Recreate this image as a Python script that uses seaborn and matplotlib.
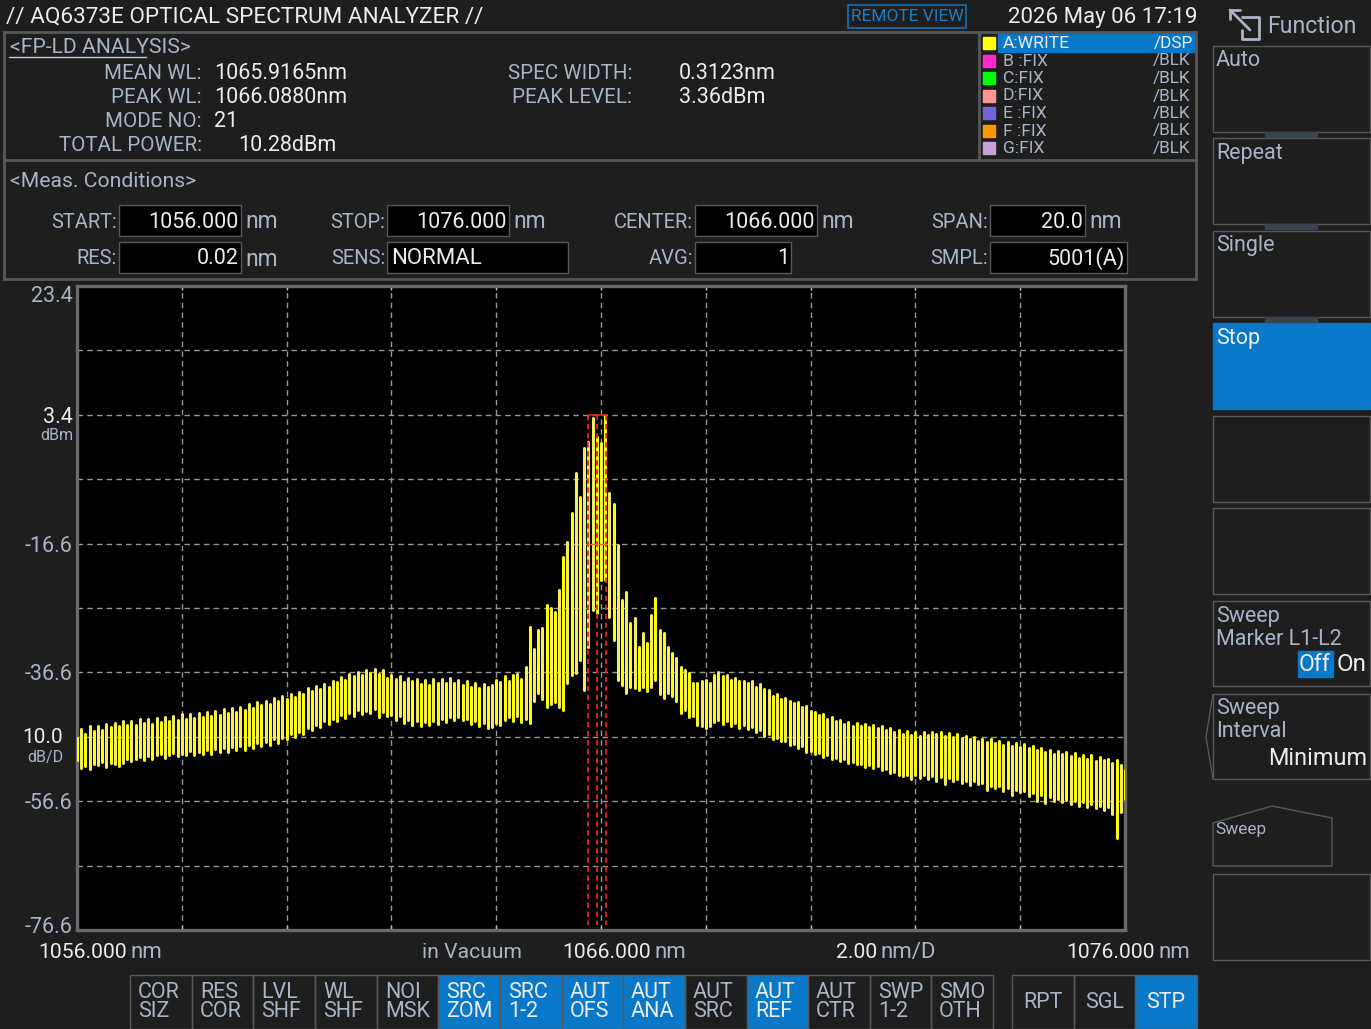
import matplotlib
matplotlib.use('Agg')
import matplotlib.pyplot as plt
from matplotlib.patches import Rectangle, Polygon
from matplotlib.transforms import ScaledTranslation
import seaborn as sns
import numpy as np
import pandas as pd

# Trace A, upper and lower level of every FP mode (dBm)
mode_top = [
    -46.8, -45.4, -46.1, -45.0, -45.7, -44.9, -45.5, -44.6, -45.1, -44.4,
    -45.0, -44.2, -44.8, -44.1, -44.7, -43.9, -44.5, -43.8, -44.6, -43.7,
    -44.3, -43.5, -44.1, -43.3, -44.0, -43.1, -43.8, -43.0, -43.7, -42.9,
    -43.5, -42.7, -43.4, -42.6, -43.2, -42.3, -42.9, -42.1, -42.8, -41.9,
    -42.4, -41.5, -42.2, -41.2, -41.7, -41.1, -41.5, -40.6, -41.0, -40.3,
    -40.8, -39.9, -40.4, -39.6, -40.0, -39.0, -39.5, -38.7, -39.2, -38.4,
    -38.9, -37.9, -38.1, -37.3, -37.8, -36.9, -37.2, -36.6, -37.0, -36.3,
    -36.7, -36.0, -36.9, -36.2, -37.4, -37.0, -37.6, -37.2, -38.1, -37.4,
    -38.0, -37.6, -38.4, -37.8, -38.5, -37.7, -38.3, -37.6, -38.2, -37.5,
    -38.2, -37.8, -38.6, -37.9, -38.8, -38.2, -39.0, -38.4, -38.9, -38.6,
    -37.8, -38.1, -37.2, -37.9, -37.0, -36.8, -37.6, -35.8, -29.5, -33.0,
    -30.0, -29.7, -26.1, -26.6, -27.2, -23.8, -18.7, -16.3, -11.9, -5.6,
    -9.3, -1.8, -0.8, 2.9, 0.0, -1.0, 3.36, -8.8, -10.4, -16.8,
    -25.4, -24.1, -28.9, -28.2, -32.7, -30.5, -32.0, -27.7, -25.0, -30.0,
    -30.5, -32.7, -33.6, -34.4, -35.8, -36.2, -36.7, -38.2, -38.2, -38.0,
    -37.8, -38.2, -37.0, -36.5, -37.2, -37.0, -37.8, -37.4, -38.0, -37.9,
    -38.3, -38.0, -38.9, -38.4, -39.2, -39.4, -40.2, -40.0, -40.7, -40.6,
    -41.0, -41.3, -41.2, -42.0, -41.8, -42.6, -42.7, -43.2, -43.1, -43.9,
    -43.6, -44.2, -44.0, -44.6, -44.3, -44.9, -44.5, -45.0, -44.6, -45.1,
    -44.8, -45.3, -45.0, -45.6, -45.3, -45.9, -45.6, -46.1, -45.7, -46.3,
    -45.9, -46.4, -45.8, -46.3, -45.9, -46.2, -45.8, -46.4, -46.0, -46.6,
    -46.2, -46.8, -46.5, -47.0, -46.7, -47.2, -46.9, -47.4, -47.0, -47.6,
    -47.2, -47.8, -47.4, -48.0, -47.6, -48.2, -47.7, -48.4, -48.0, -48.7,
    -48.3, -49.0, -48.6, -49.3, -48.8, -49.2, -49.0, -49.6, -49.1, -49.9,
    -49.4, -50.1, -49.5, -50.3, -49.7, -50.2, -50.0, -50.6, -50.2, -51.0, -51.8,
]
mode_bottom = [
    -50.2, -51.5, -51.2, -51.6, -50.8, -51.0, -50.5, -51.3, -50.6, -50.9,
    -51.2, -50.6, -50.0, -50.4, -50.1, -49.7, -50.2, -49.6, -50.1, -49.5,
    -49.2, -49.9, -49.4, -49.1, -49.6, -49.2, -49.4, -48.8, -49.5, -49.0,
    -49.3, -48.7, -49.2, -48.5, -49.0, -48.4, -48.9, -48.2, -48.7, -48.0,
    -48.6, -47.8, -48.3, -47.6, -48.0, -47.4, -47.9, -47.0, -47.5, -46.8,
    -47.0, -46.1, -46.6, -45.8, -46.2, -45.3, -45.6, -44.8, -45.1, -44.2,
    -44.6, -43.8, -44.1, -43.2, -43.7, -42.9, -43.3, -42.5, -43.1, -42.6,
    -42.9, -42.3, -43.5, -42.8, -43.4, -43.2, -44.0, -43.4, -44.4, -44.0,
    -44.8, -44.1, -44.9, -44.3, -44.7, -44.2, -44.6, -43.8, -44.3, -43.6,
    -44.0, -43.5, -44.0, -43.9, -44.6, -44.2, -45.0, -44.5, -45.3, -45.1,
    -44.4, -44.8, -44.0, -43.5, -44.2, -43.4, -44.3, -43.8, -44.5, -41.0,
    -39.8, -40.8, -42.0, -41.5, -41.2, -42.0, -42.4, -38.2, -37.0, -36.7,
    -34.7, -39.3, -32.6, -26.9, -27.4, -22.3, -22.3, -28.0, -31.6, -37.8,
    -38.6, -39.8, -38.9, -39.0, -39.3, -38.9, -39.5, -38.9, -37.8, -40.0,
    -40.6, -39.8, -40.3, -41.0, -42.9, -42.5, -43.5, -43.3, -44.8, -45.0,
    -45.2, -44.9, -44.3, -44.0, -44.6, -44.2, -44.9, -44.5, -45.2, -44.8,
    -45.4, -45.1, -45.9, -45.6, -46.4, -46.2, -46.9, -46.8, -47.3, -47.2,
    -47.8, -47.7, -48.3, -48.1, -48.9, -48.8, -49.2, -49.1, -49.7, -49.5,
    -50.0, -49.9, -50.3, -50.1, -50.7, -50.5, -50.9, -50.8, -51.3, -51.0,
    -51.4, -51.2, -51.8, -51.6, -52.2, -52.0, -52.6, -52.7, -52.5, -53.2,
    -52.6, -53.0, -52.5, -53.1, -52.7, -53.4, -52.9, -54.0, -53.0, -53.4,
    -53.1, -53.7, -53.4, -54.1, -53.5, -54.0, -53.8, -54.8, -54.2, -54.6,
    -54.3, -55.0, -54.6, -55.6, -54.9, -55.2, -55.0, -55.8, -55.4, -56.6,
    -55.7, -56.9, -56.0, -56.6, -56.2, -56.8, -56.4, -57.0, -56.6, -57.3,
    -56.8, -57.5, -57.0, -57.6, -57.3, -58.0, -57.5, -58.6, -62.3, -58.2, -56.2,
]

# FP-LD analysis markers (nm) and spectrum axis settings
marker_wl = [1065.75, 1065.9165, 1066.09]
peak_level = 3.36
half_level = -16.6
marker_floor = -75.8
y_ticks = [23.4, 13.4, 3.4, -6.6, -16.6, -26.6, -36.6, -46.6, -56.6, -66.6, -76.6]
y_tick_labels = ['23.4', '', '3.4', '', '-16.6', '', '-36.6', '', '-56.6', '', '-76.6']
x_ticks = [1056, 1058, 1060, 1062, 1064, 1066, 1068, 1070, 1072, 1074, 1076]

trace_names = ['A:WRITE', 'B :FIX', 'C:FIX', 'D:FIX', 'E :FIX', 'F :FIX', 'G:FIX']
trace_modes = ['/DSP', '/BLK', '/BLK', '/BLK', '/BLK', '/BLK', '/BLK']
trace_colors = ['#ffff00', '#ff28c8', '#00ff00', '#ff9494', '#7464dc', '#ff9800', '#c8a0d8']

bottom_keys = ['COR\nSIZ', 'RES\nCOR', 'LVL\nSHF', 'WL\nSHF', 'NOI\nMSK', 'SRC\nZOM', 'SRC\n1-2',
               'AUT\nOFS', 'AUT\nANA', 'AUT\nSRC', 'AUT\nREF', 'AUT\nCTR', 'SWP\n1-2', 'SMO\nOTH']
bottom_keys_on = ['SRC\nZOM', 'SRC\n1-2', 'AUT\nOFS', 'AUT\nANA', 'AUT\nREF']
run_keys = ['RPT', 'SGL', 'STP']

BG = '#1e1e1e'
EDGE = '#585858'
LABEL = '#a9b4c6'
VALUE = '#ececec'
BLUE = '#0a78c8'

sns.set_theme(style='dark', rc={'figure.facecolor': BG, 'axes.facecolor': 'black'})
plt.rcParams['font.family'] = ['Roboto', 'DejaVu Sans']

fig = plt.figure(figsize=(13.71, 10.29), dpi=100)

# Screen furniture is placed in pixel coordinates on a full size axes
ui = fig.add_axes([0, 0, 1, 1], zorder=0)
ui.set_xlim(0, 1371)
ui.set_ylim(1029, 0)
ui.axis('off')


def txt(x, y, s, color=VALUE, size=15.5, ha='left', **kw):
    ui.text(x, y + 1.5, s, color=color, fontsize=size, ha=ha, va='center', **kw)


def box(x0, y0, x1, y1, face='none', edge=EDGE, lw=1.0):
    ui.add_patch(Rectangle((x0, y0), x1 - x0, y1 - y0, facecolor=face, edgecolor=edge, linewidth=lw))


# Header
txt(6, 16, '// AQ6373E OPTICAL SPECTRUM ANALYZER //', size=16.2)
box(848, 5, 966, 28, edge='#1670b4', lw=1.2)
txt(907, 15, 'REMOTE VIEW', color='#1c80c4', size=12.5, ha='center')
txt(1197, 16, '2026 May 06 17:19', size=16, ha='right')

# Analysis panel
box(4, 32, 1196, 279, lw=2)
ui.plot([4, 1196], [160, 160], color=EDGE, lw=2)
ui.plot([979, 979], [32, 160], color=EDGE, lw=2)
txt(10, 46, '<FP-LD ANALYSIS>', color=LABEL, size=15.2)
ui.plot([9, 146], [57, 57], color='#c8ccd4', lw=1)
for y, name, val, vx in [(72, 'MEAN WL:', '1065.9165nm', 214), (96, 'PEAK WL:', '1066.0880nm', 214),
                         (120, 'MODE NO:', '21', 214), (144, 'TOTAL POWER:', '10.28dBm', 238)]:
    txt(202, y, name, color=LABEL, size=14.8, ha='right')
    txt(vx, y, val)
for y, name, val in [(72, 'SPEC WIDTH:', '0.3123nm'), (96, 'PEAK LEVEL:', '3.36dBm')]:
    txt(632, y, name, color=LABEL, size=14.8, ha='right')
    txt(679, y, val)

# Trace list
box(998, 34, 1194, 52, face=BLUE, edge=BLUE)
for i, (name, mode, col) in enumerate(zip(trace_names, trace_modes, trace_colors)):
    y = 43 + i * 17.5
    box(983, y - 6, 995, y + 6, face=col, edge=col)
    txt(1003, y - 1, name, color=VALUE if i == 0 else LABEL, size=12.6)
    txt(1193 if i == 0 else 1190, y - 1, mode, color=VALUE if i == 0 else LABEL, size=12.4, ha='right')

# Measurement conditions
txt(10, 180, '<Meas. Conditions>', color=LABEL, size=15.2)
fields = [
    ('START:', 119, 241, 205, 236, '1056.000', 'nm'),
    ('STOP:', 387, 509, 205, 236, '1076.000', 'nm'),
    ('CENTER:', 695, 817, 205, 236, '1066.000', 'nm'),
    ('SPAN:', 990, 1085, 205, 236, '20.0', 'nm'),
    ('RES:', 119, 241, 242, 273, '0.02', 'nm'),
    ('SENS:', 387, 568, 242, 273, 'NORMAL', ''),
    ('AVG:', 695, 791, 242, 273, '1', ''),
    ('SMPL:', 990, 1127, 242, 273, '5001(A)', ''),
]
for name, x0, x1, y0, y1, val, unit in fields:
    ym = (y0 + y1) / 2
    box(x0, y0, x1, y1, face='black')
    txt(x0 - 2, ym, name, color=LABEL, size=14.5, ha='right')
    if val == 'NORMAL':
        txt(x0 + 4, ym, val, size=16)
    else:
        txt(x1 - 2, ym, val, ha='right')
    if unit:
        txt(x1 + 4, ym, unit, color=LABEL, size=16.5)

# Function softkeys
ui.plot([1230, 1250], [10, 30], color=LABEL, lw=2)
ui.plot([1230, 1230, 1240], [19, 10, 10], color=LABEL, lw=2)
ui.plot([1242, 1259, 1259, 1242, 1242], [17, 17, 39, 39, 30], color=LABEL, lw=2)
txt(1267, 25, 'Function', color=LABEL, size=16.7)
key_rows = [(46, 132), (138, 224), (231, 317), (323, 409), (416, 502), (508, 594), (601, 686), (694, 779), (874, 960)]
for n, (y0, y1) in enumerate(key_rows):
    box(1213, y0, 1370, y1, face=BLUE if n == 3 else 'none', edge=BLUE if n == 3 else EDGE)
for y0 in [132, 224, 317]:
    box(1265, y0, 1317, y0 + 5, face='#3a4450', edge='#3a4450')
txt(1216, 59, 'Auto', color=LABEL)
txt(1216, 152, 'Repeat', color=LABEL)
txt(1216, 244, 'Single', color=LABEL)
txt(1216, 337, 'Stop', color=VALUE)
txt(1216, 615, 'Sweep', color=LABEL)
txt(1216, 638, 'Marker L1-L2', color=LABEL)
box(1298, 651, 1333, 677, face=BLUE, edge=BLUE)
txt(1315, 663, 'Off', ha='center', size=16.5)
txt(1337, 663, 'On', size=17.5)
txt(1216, 707, 'Sweep', color=LABEL)
txt(1216, 730, 'Interval', color=LABEL)
txt(1367, 757, 'Minimum', ha='right', size=16.8)
ui.add_patch(Polygon([(1213, 694), (1206, 737), (1213, 779)], closed=False, fill=False, edgecolor=EDGE, lw=1))
ui.add_patch(Polygon([(1213, 823), (1272, 806), (1332, 818), (1332, 866), (1213, 866)], closed=True,
                     fill=False, edgecolor=EDGE, lw=1))
txt(1215, 828, 'Sweep', color=LABEL, size=12.5)

# Level scale extras and wavelength captions
txt(79, 415, 'REF', color=VALUE)
txt(73, 434, 'dBm', color=LABEL, size=11.5, ha='right')
txt(63, 736, '10.0', size=15, ha='right')
txt(63, 756, 'dB/D', color=LABEL, size=11.5, ha='right')
for x_val, val, x_unit, unit in [(127, '1056.000', 130, 'nm'), (651, '1066.000', 654, 'nm'),
                                 (877, '2.00', 881, 'nm/D'), (1155, '1076.000', 1158, 'nm')]:
    txt(x_val, 951, val, size=15.2, ha='right')
    txt(x_unit, 951, unit, color=LABEL, size=16)
txt(522, 951, 'in Vacuum', color=LABEL, size=15.2, ha='right')

# Bottom key row
key_edges = [130, 192, 253, 315, 377, 438, 500, 562, 623, 685, 747, 808, 870, 931, 993]
for k, key in enumerate(bottom_keys):
    on = key in bottom_keys_on
    box(key_edges[k], 975, key_edges[k + 1], 1029, face=BLUE if on else 'none', edge=EDGE)
    top_line, low_line = key.split('\n')
    color = VALUE if on else LABEL
    txt(key_edges[k] + 8, 991, top_line, color=color)
    txt(key_edges[k] + 8, 1010, low_line, color=color)
run_edges = [1012, 1074, 1135, 1197]
for k, key in enumerate(run_keys):
    on = key == 'STP'
    box(run_edges[k], 975, run_edges[k + 1], 1029, face=BLUE if on else 'none', edge=EDGE)
    txt((run_edges[k] + run_edges[k + 1]) / 2, 1001, key, color=VALUE if on else LABEL, ha='center')

# Spectrum
ax = fig.add_axes([77 / 1371, (1029 - 930) / 1029, 1048 / 1371, 644 / 1029], zorder=1)

mode_wl = np.linspace(1056, 1076, len(mode_top))
df = pd.concat([
    pd.DataFrame({'wl': mode_wl, 'level': mode_top, 'mode': range(len(mode_top))}),
    pd.DataFrame({'wl': mode_wl, 'level': mode_bottom, 'mode': range(len(mode_top))}),
])
df['shade'] = df['mode'] % 2

sns.lineplot(data=df, x='wl', y='level', units='mode', hue='shade', estimator=None, legend=False,
             palette=['#ffff00', '#f4ec60'], linewidth=2.2, ax=ax, zorder=3)

for wl in marker_wl:
    sns.lineplot(x=[wl, wl], y=[peak_level, marker_floor], estimator=None, sort=False, color='#e8202a',
                 linewidth=1.3, linestyle=(0, (3, 2)), ax=ax, zorder=4)
sns.lineplot(x=[marker_wl[0], marker_wl[2]], y=[peak_level, peak_level], estimator=None, color='#d8281e',
             linewidth=1.2, ax=ax, zorder=4)
sns.lineplot(x=[marker_wl[0], marker_wl[2]], y=[half_level, half_level], estimator=None, color='#e07818',
             linewidth=1.0, ax=ax, zorder=4)

ax.set_xlim(1056, 1076)
ax.set_ylim(-76.6, 23.4)
ax.set_xlabel('')
ax.set_ylabel('')
ax.set_xticks(x_ticks)
ax.set_xticklabels([])
ax.set_yticks(y_ticks)
ax.set_yticklabels(y_tick_labels, color=LABEL, fontsize=15.5)
ax.tick_params(axis='y', length=0, pad=3)
ax.tick_params(axis='x', direction='in', length=3, color='#c8c8c8', width=1, top=True, bottom=True)
y_labels = ax.get_yticklabels()
y_labels[0].set_va('top')
y_labels[-1].set_va('baseline')
y_labels[-1].set_transform(y_labels[-1].get_transform() + ScaledTranslation(0, -2 / 72, fig.dpi_scale_trans))
y_labels[2].set_color(VALUE)
ax.grid(True, color='#989898', linewidth=1.0, linestyle=(0, (4, 3)))
ax.set_axisbelow(True)
for side in ax.spines.values():
    side.set_visible(True)
    side.set_color('#6a6a6a')
    side.set_linewidth(2.4)

fig.savefig('out.png', dpi=100, facecolor=BG)
